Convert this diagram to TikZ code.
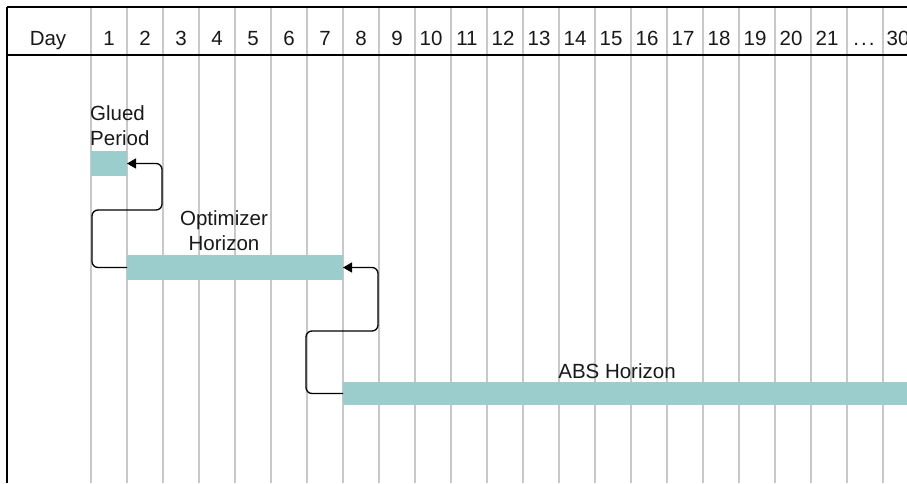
\documentclass[tikz,border=0pt]{standalone}
\usepackage{fontspec}
\setmainfont{Liberation Sans}
\usetikzlibrary{arrows.meta}
\definecolor{barfill}{RGB}{155,205,205}
\definecolor{gridgray}{RGB}{200,200,200}
\definecolor{txt}{RGB}{25,25,25}
\tikzset{
  bar/.style={fill=barfill, draw=none, inner sep=0pt, outer sep=0pt},
  grid/.style={draw=gridgray, line width=1.3pt},
  frame/.style={draw=black, line width=1.5pt},
  lbl/.style={text=txt, font=\fontsize{20.5}{25}\selectfont, inner sep=0pt},
  hdr/.style={lbl, anchor=base},
  conn/.style={draw=black, line width=1.3pt, rounded corners=6pt, -{Triangle[length=9pt,width=10pt]}}
}
\begin{document}
\begin{tikzpicture}[x=1pt,y=-1pt]
\useasboundingbox (0,0) rectangle (907,483);
\clip (0,0) rectangle (907,483);
\fill[white] (0,0) rectangle (907,483);
% grid
\foreach \k in {0,...,22} {
  \draw[grid] ({91+36*\k},7) -- ({91+36*\k},483);
}
% frame
\draw[frame] (7,7) -- (920,7);
\draw[frame] (7,55) -- (920,55);
\draw[frame] (7,7) -- (7,483);
% header
\node[hdr] (hday) at (48,45) {Day};
\foreach \i in {1,...,9} {
  \node[hdr] (h\i) at ({109+36*(\i-1)},45) {\i};
}
\foreach \i in {10,...,21} {
  \node[hdr] (h\i) at ({107+36*(\i-1)},45) {\i};
}
\node[hdr] (hdots) at (864,45) {.\kern2pt.\kern2pt.};
\node[hdr] (h30) at (898,45) {30};
% bars
\node[bar, minimum width=36pt, minimum height=25pt] (glued) at (109,163.5) {};
\node[bar, minimum width=216pt, minimum height=25pt] (opt) at (235,267.5) {};
\node[bar, minimum width=576pt, minimum height=23pt] (abs) at (631,393.5) {};
% labels (base = baseline of last line)
\node[lbl, anchor=base west, align=left] (gluedlbl) at (90,145) {Glued\\Period};
\node[lbl, anchor=base, align=center] (optlbl) at (224,250) {Optimizer\\Horizon};
\node[lbl, anchor=base] (abslbl) at (617,378) {ABS Horizon};
% connectors
\draw[conn] (opt.west) -| (92,210) -| (162,163.5) -- (glued.east);
\draw[conn] (abs.west) -| (306,331) -| (378,267.5) -- (opt.east);
\end{tikzpicture}
\end{document}
